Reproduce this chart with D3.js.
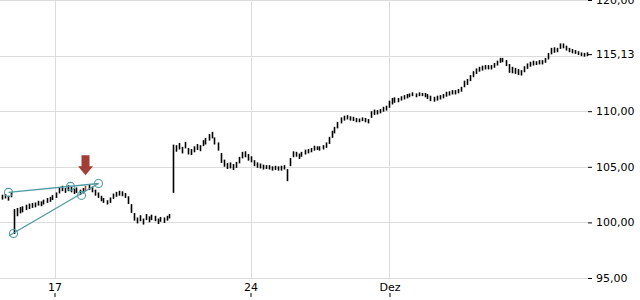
<!DOCTYPE html>
<html>
<head>
<meta charset="utf-8">
<script src="https://cdn.jsdelivr.net/npm/d3@7"></script>
<style>
  body { margin: 0; background: #fff; }
  svg { display: block; font-family: "DejaVu Sans", sans-serif; }
</style>
</head>
<body>
<div class="Canvas"></div>
<script>
// bar lows / highs, one bar per interval
const lows = [
  102.1, 102.2, 102.0, 102.3, 99.0, 100.6, 100.85, 100.95, 101.15, 101.25,
  101.35, 101.4, 101.55, 101.5, 101.65, 101.8, 101.9, 102.05, 102.25, 102.65,
  102.85, 102.7, 102.85, 102.75, 102.6, 102.7, 102.5, 102.65, 102.85, 102.95,
  102.75, 102.45, 102.25, 101.95, 101.8, 101.65, 101.8, 102.15, 102.35, 102.45,
  102.4, 102.25, 101.7, 100.9, 100.2, 99.95, 100.15, 99.85, 100.25, 100.05,
  100.25, 100.15, 99.9, 100.1, 100.0, 100.2, 100.4, 102.7, 106.4, 106.6,
  106.25, 106.7, 106.15, 106.1, 106.35, 106.55, 106.45, 106.9, 107.05, 107.4,
  107.6, 107.05, 106.5, 105.4, 105.05, 104.85, 104.9, 104.75, 104.95, 105.35,
  105.8, 105.9, 105.6, 105.45, 105.1, 104.95, 104.9, 104.8, 104.85, 104.8,
  104.7, 104.75, 104.7, 104.7, 104.8, 103.75, 105.1, 105.9, 105.95, 105.75,
  105.95, 106.15, 106.25, 106.35, 106.5, 106.55, 106.5, 106.6, 106.75, 107.1,
  107.65, 108.05, 108.5, 108.95, 109.2, 109.3, 109.2, 109.15, 109.05, 109.05,
  109.15, 109.05, 108.95, 109.45, 109.7, 109.75, 109.85, 110.0, 110.1, 110.35,
  110.65, 110.8, 110.85, 111.0, 111.1, 111.2, 111.3, 111.4, 111.3, 111.4,
  111.4, 111.3, 111.15, 110.95, 110.9, 111.0, 111.1, 111.2, 111.35, 111.45,
  111.55, 111.55, 111.65, 111.8, 112.2, 112.4, 112.75, 113.1, 113.4, 113.6,
  113.7, 113.8, 113.8, 113.8, 113.95, 114.15, 114.4, 114.45, 114.1, 113.5,
  113.45, 113.4, 113.3, 113.25, 113.55, 113.85, 114.05, 114.15, 114.2, 114.25,
  114.25, 114.4, 114.7, 115.15, 115.3, 115.35, 115.65, 115.7, 115.5, 115.35,
  115.25, 115.2, 115.1, 115.0, 114.95, 115.0
];
const highs = [
  102.45, 102.5, 102.35, 102.65, 101.15, 101.25, 101.35, 101.4, 101.55, 101.65,
  101.7, 101.75, 101.9, 101.85, 102.0, 102.15, 102.25, 102.4, 102.65, 103.1,
  103.25, 103.05, 103.3, 103.15, 103.0, 103.1, 102.9, 103.05, 103.25, 103.4,
  103.15, 102.9, 102.65, 102.35, 102.15, 101.95, 102.2, 102.55, 102.7, 102.8,
  102.75, 102.6, 102.3, 101.6, 100.8, 100.4, 100.6, 100.3, 100.7, 100.5,
  100.65, 100.55, 100.3, 100.45, 100.4, 100.55, 100.7, 106.95, 106.9, 107.1,
  106.75, 107.2, 106.65, 106.55, 106.8, 107.0, 106.9, 107.35, 107.55, 107.9,
  108.1, 107.6, 107.15, 106.2, 105.6, 105.3, 105.35, 105.2, 105.4, 105.85,
  106.3, 106.35, 106.1, 105.9, 105.55, 105.35, 105.25, 105.15, 105.1, 105.1,
  105.0, 105.05, 105.0, 105.05, 105.1, 104.75, 105.75, 106.35, 106.3, 106.15,
  106.3, 106.5, 106.55, 106.65, 106.85, 106.8, 106.8, 106.9, 107.15, 107.65,
  108.2, 108.55, 109.0, 109.4, 109.55, 109.6, 109.5, 109.45, 109.35, 109.3,
  109.4, 109.35, 109.25, 109.95, 110.1, 110.05, 110.15, 110.35, 110.45, 110.9,
  111.15, 111.2, 111.15, 111.3, 111.4, 111.5, 111.55, 111.65, 111.55, 111.65,
  111.6, 111.6, 111.5, 111.35, 111.25, 111.35, 111.4, 111.5, 111.7, 111.75,
  111.85, 111.85, 111.95, 112.15, 112.7, 112.85, 113.2, 113.55, 113.8, 113.95,
  114.05, 114.1, 114.1, 114.1, 114.3, 114.5, 114.75, 114.75, 114.55, 114.2,
  113.95, 113.85, 113.75, 113.65, 114.0, 114.25, 114.4, 114.5, 114.45, 114.55,
  114.55, 114.75, 115.2, 115.65, 115.7, 115.65, 116.05, 116.05, 115.85, 115.65,
  115.55, 115.45, 115.35, 115.25, 115.2, 115.25
];

const lastPrice = 115.13;
const priceTicks = [95, 100, 105, 110, 120];
const gridPrices = [95, 100, 105, 110, 115, 120];
const dateLabels = ['17', '24', 'Dez'];
const dateBars = [17.67, 83, 129.33];   // bar index of each date tick
const markedBar = 28;

// drawn trend lines (bar index, price)
const trendLines = [
  [[2.33, 102.7], [32.33, 103.5]],
  [[2.5, 98.8], [32.33, 103.5]]
];
const anchors = [[2.33, 102.7], [23, 103.24], [32.33, 103.5], [4, 99.0], [26.67, 102.43]];

const width = 640;
const height = 300;
const plotRight = 588;
const teal = '#4e9aa3';
const fmt = (v) => d3.format('.2f')(v).replace('.', ',');

const svg = d3.select('.Canvas').append('svg').attr('width', width).attr('height', height);

const x = d3.scaleLinear().domain([0, lows.length - 1]).range([1.5, 586.5]);
const y = d3.scaleLinear().domain([95, 120]).range([278, 0]);

// grid
svg.append('g')
  .selectAll('line.h')
  .data(gridPrices)
  .enter()
  .append('line')
  .attr('x1', 0)
  .attr('x2', plotRight)
  .attr('y1', (d) => Math.round(y(d)) + 0.5)
  .attr('y2', (d) => Math.round(y(d)) + 0.5)
  .attr('stroke', '#dcdcdc');
svg.append('g')
  .selectAll('line.v')
  .data(dateBars)
  .enter()
  .append('line')
  .attr('x1', (d) => Math.round(x(d)) + 0.5)
  .attr('x2', (d) => Math.round(x(d)) + 0.5)
  .attr('y1', 0)
  .attr('y2', y(95))
  .attr('stroke', '#dcdcdc');

// right price axis
const yAxis = svg.append('g')
  .attr('transform', `translate(${plotRight},0)`)
  .call(d3.axisRight(y).tickValues(priceTicks.concat([lastPrice])).tickFormat(fmt).tickSize(4).tickPadding(4).tickSizeOuter(0));
yAxis.select('.domain').remove();
yAxis.selectAll('text').attr('font-size', '11px').attr('font-family', '"DejaVu Sans", sans-serif').attr('fill', '#000');
yAxis.selectAll('line').attr('stroke', '#000');

// bottom date axis: labels above, tiny ticks below
const xAxis = svg.append('g')
  .attr('transform', 'translate(0,293)')
  .call(d3.axisBottom(x).tickValues(dateBars).tickFormat((d, i) => dateLabels[i]).tickSize(4).tickSizeOuter(0));
xAxis.select('.domain').remove();
xAxis.selectAll('line').attr('stroke', '#000');
xAxis.selectAll('text')
  .attr('y', -2)
  .attr('dy', 0)
  .attr('font-size', '11px')
  .attr('font-family', '"DejaVu Sans", sans-serif')
  .attr('fill', '#000');

// price bars
svg.append('g')
  .selectAll('line.bar')
  .data(lows)
  .enter()
  .append('line')
  .attr('x1', (d, i) => Math.round(x(i)) + 0.5)
  .attr('x2', (d, i) => Math.round(x(i)) + 0.5)
  .attr('y1', (d) => y(d) + 0.5)
  .attr('y2', (d, i) => y(highs[i]) - 0.5)
  .attr('stroke', (d, i) => (i == markedBar ? '#b03a30' : '#000'))
  .attr('stroke-width', 1.6);

// trend drawings
svg.append('g')
  .selectAll('line.trend')
  .data(trendLines)
  .enter()
  .append('line')
  .attr('x1', (d) => x(d[0][0]))
  .attr('y1', (d) => y(d[0][1]))
  .attr('x2', (d) => x(d[1][0]))
  .attr('y2', (d) => y(d[1][1]))
  .attr('stroke', teal)
  .attr('stroke-width', 1.3);
svg.append('g')
  .selectAll('circle')
  .data(anchors)
  .enter()
  .append('circle')
  .attr('cx', (d) => x(d[0]))
  .attr('cy', (d) => y(d[1]))
  .attr('r', 4)
  .attr('fill', 'none')
  .attr('stroke', teal)
  .attr('stroke-width', 1.1);

// signal arrow above the marked bar
const tx = Math.round(x(markedBar)) + 0.5;
const ty = y(highs[markedBar]) - 11;
svg.append('path')
  .attr('d', `M${tx - 4},${ty - 20} L${tx + 4},${ty - 20} L${tx + 4},${ty - 9} L${tx + 7.5},${ty - 9} L${tx},${ty} L${tx - 7.5},${ty - 9} L${tx - 4},${ty - 9} Z`)
  .attr('fill', '#a23e36');
</script>
</body>
</html>
